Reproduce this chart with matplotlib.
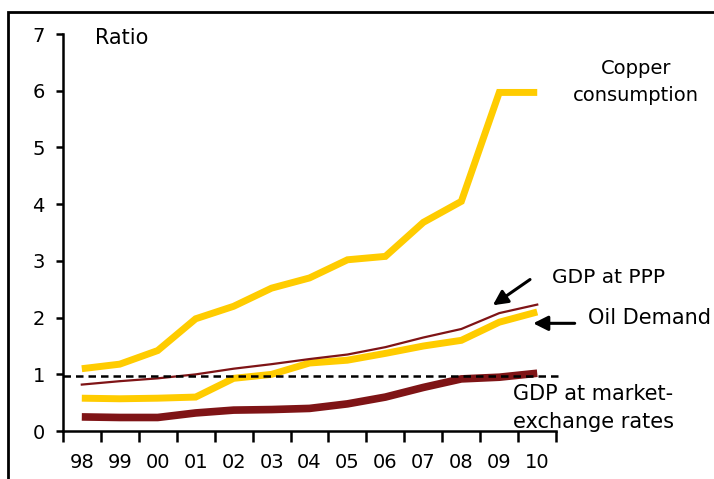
import matplotlib.pyplot as plt
from matplotlib.patches import Rectangle

years = ['98', '99', '00', '01', '02', '03', '04', '05', '06', '07', '08', '09', '10']
copper = [1.1, 1.18, 1.42, 1.98, 2.2, 2.52, 2.7, 3.02, 3.08, 3.68, 4.05, 5.97, 5.97]
oil = [0.58, 0.57, 0.58, 0.6, 0.93, 1.0, 1.2, 1.25, 1.37, 1.5, 1.6, 1.92, 2.1]
gdp_ppp = [0.82, 0.88, 0.93, 1.0, 1.1, 1.18, 1.27, 1.35, 1.48, 1.65, 1.8, 2.08, 2.23]
gdp_mer = [0.25, 0.24, 0.24, 0.32, 0.37, 0.38, 0.4, 0.48, 0.6, 0.77, 0.92, 0.95, 1.02]
ref_level = 0.97

yellow = '#FFCC00'
dark_red = '#7F1416'

fig = plt.figure(figsize=(7.14, 4.79), dpi=100)
ax = fig.add_axes([0.088, 0.100, 0.691, 0.829])

x = list(range(len(years)))
ax.plot(x, copper, color=yellow, lw=5, solid_capstyle='butt', solid_joinstyle='miter')
ax.plot(x, oil, color=yellow, lw=5, solid_capstyle='butt', solid_joinstyle='miter')
ax.plot(x, gdp_mer, color=dark_red, lw=5.5, solid_capstyle='butt', solid_joinstyle='miter')
ax.plot(x, gdp_ppp, color=dark_red, lw=1.6)
ax.plot([-0.5, 12.6], [ref_level, ref_level], color='black', lw=1.8,
        ls=(0, (3, 2)), clip_on=False, zorder=5)

ax.set_xlim(-0.5, 12.5)
ax.set_ylim(0, 7)
ax.set_yticks(range(8))
ax.set_xticks(x)
ax.set_xticklabels(years)
ax.set_xticks([i - 0.5 for i in range(len(years) + 1)], minor=True)
ax.tick_params(axis='x', which='major', length=0, pad=16, labelsize=14)
ax.tick_params(axis='x', which='minor', length=8, width=1.8, direction='out')
ax.tick_params(axis='y', length=5, width=1.8, pad=8, labelsize=14)
for side in ['top', 'right']:
    ax.spines[side].set_visible(False)
for side in ['left', 'bottom']:
    ax.spines[side].set_linewidth(1.8)

ax.text(0.34, 6.93, 'Ratio', fontsize=15, va='center')
ax.text(14.6, 6.15, 'Copper\nconsumption', fontsize=14, ha='center', va='center',
        linespacing=1.55, clip_on=False)
ax.text(12.4, 2.7, 'GDP at PPP', fontsize=14.5, va='center', clip_on=False)
ax.text(13.35, 1.99, 'Oil Demand', fontsize=15, va='center', clip_on=False)
ax.text(11.37, 0.4, 'GDP at market-\nexchange rates', fontsize=15, ha='left',
        va='center', linespacing=1.5, clip_on=False)

ax.annotate('', xy=(10.77, 2.19), xytext=(11.87, 2.7),
            arrowprops=dict(arrowstyle='-|>', color='black', lw=2.2,
                            mutation_scale=22), annotation_clip=False)
ax.annotate('', xy=(11.82, 1.9), xytext=(13.06, 1.9),
            arrowprops=dict(arrowstyle='-|>', color='black', lw=2.2,
                            mutation_scale=22), annotation_clip=False)

fig.patches.append(Rectangle((8 / 714, -0.05), 1.1, 1.05 - 12 / 479,
                             transform=fig.transFigure, fill=False,
                             edgecolor='black', lw=2))

fig.savefig('out.png', dpi=100)
